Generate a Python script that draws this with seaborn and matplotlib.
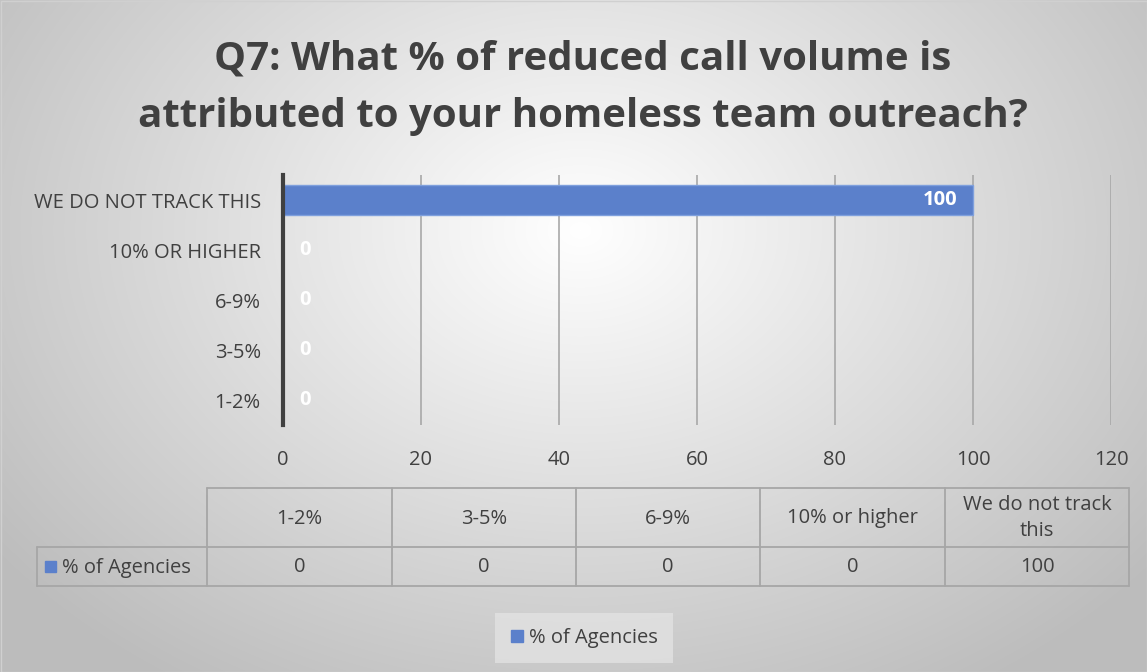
import numpy as np
import pandas as pd
import matplotlib
matplotlib.use("Agg")
import matplotlib.pyplot as plt
import seaborn as sns
from matplotlib.patches import Rectangle

# Survey answers and share of agencies giving each answer
categories = ["1-2%", "3-5%", "6-9%", "10% or higher", "We do not track this"]
values = [0, 0, 0, 0, 100]
series_name = "% of Agencies"
x_ticks = [0, 20, 40, 60, 80, 100, 120]
title = "Q7: What % of reduced call volume is\nattributed to your homeless team outreach?"

sns.set_theme(style="white")
plt.rcParams["font.family"] = ["Open Sans", "DejaVu Sans"]

W, H = 1147, 672
text_col = "#404040"
bar_col = "#5b80cb"
fs = 14.5

fig = plt.figure(figsize=(W / 100, H / 100), dpi=100)

# Radial-gradient background across the whole figure
bg = fig.add_axes([0, 0, 1, 1], zorder=-10)
yy, xx = np.mgrid[0:H, 0:W]
r = np.sqrt(((xx - 580) / 700.0) ** 2 + ((yy - 230) / 520.0) ** 2)
shade = np.clip(1.0 - 0.25 * r, 0.74, 1.0)
bg.imshow(np.dstack([shade] * 3), extent=(0, W, H, 0), aspect="auto")
bg.add_patch(Rectangle((0.5, 0.5), W - 1, H - 1, fill=False, ec="#d0d0d0", lw=1))
bg.set_xlim(0, W)
bg.set_ylim(H, 0)
bg.axis("off")

# Bar chart area
left, right, top, bottom = 283, 1111, 175, 425
ax = fig.add_axes([left / W, 1 - bottom / H, (right - left) / W, (bottom - top) / H])
ax.patch.set_alpha(0)

df = pd.DataFrame({"category": [c.upper() for c in categories], "value": values})
order = [c.upper() for c in categories][::-1]
sns.barplot(data=df, y="category", x="value", order=order, orient="h",
            color=bar_col, width=0.6, saturation=1, ax=ax,
            edgecolor="#7fa0dd", linewidth=1, zorder=3)

ax.set_xlim(0, 120)
ax.set_ylim(len(order) - 0.5, -0.5)
ax.set_xticks(x_ticks)
ax.set_xticklabels([str(t) for t in x_ticks], fontsize=fs, color=text_col)
ax.tick_params(axis="x", length=0, pad=18)
ax.tick_params(axis="y", length=0, pad=16)
for lbl in ax.get_yticklabels():
    lbl.set_fontsize(fs)
    lbl.set_color(text_col)
ax.set_xlabel("")
ax.set_ylabel("")
for t in x_ticks[1:]:
    ax.axvline(t, color="#a8a8a8", lw=1.2, zorder=1)
for s in ["top", "right", "bottom"]:
    ax.spines[s].set_visible(False)
ax.spines["left"].set_color("#404040")
ax.spines["left"].set_linewidth(3)
ax.spines["left"].set_zorder(5)

# Value labels
for i, cat in enumerate(order):
    v = df.loc[df["category"] == cat, "value"].iloc[0]
    if v > 0:
        ax.text(v - 2.3, i, str(v), ha="right", va="center", color="white",
                fontsize=fs, fontweight="bold", zorder=6)
    else:
        ax.text(v + 2.4, i, str(v), ha="left", va="center", color="white",
                fontsize=fs, fontweight="bold", zorder=6)

# Title
fig.text(583 / W, 1 - 88 / H, title, ha="center", va="center", fontsize=29,
         fontweight="bold", color=text_col, linespacing=1.6)

# Data table below the chart (pixel layout on the background axes)
col_edges = [207, 392, 576, 760, 945, 1129]
row_top, row_mid, row_bot = 488, 547, 586
label_left = 37
grid_c = "#a6a6a6"
bg.plot([col_edges[0], col_edges[-1]], [row_top, row_top], color=grid_c, lw=1.3)
bg.plot([label_left, col_edges[-1]], [row_mid, row_mid], color=grid_c, lw=1.3)
bg.plot([label_left, col_edges[-1]], [row_bot, row_bot], color=grid_c, lw=1.3)
bg.plot([label_left, label_left], [row_mid, row_bot], color=grid_c, lw=1.3)
for xe in col_edges:
    bg.plot([xe, xe], [row_top, row_bot], color=grid_c, lw=1.3)
header_labels = ["1-2%", "3-5%", "6-9%", "10% or higher", "We do not track\nthis"]
for j, (hdr, v) in enumerate(zip(header_labels, values)):
    cx = (col_edges[j] + col_edges[j + 1]) / 2
    bg.text(cx, (row_top + row_mid) / 2 + 1, hdr, ha="center", va="center",
            fontsize=fs, color=text_col, linespacing=1.4)
    bg.text(cx, (row_mid + row_bot) / 2 + 1, str(v), ha="center", va="center",
            fontsize=fs, color=text_col)
bg.add_patch(Rectangle((45, 561), 11, 11, color=bar_col))
bg.text(62, (row_mid + row_bot) / 2 + 1, series_name, ha="left", va="center",
        fontsize=fs, color=text_col)

# Legend
handle = Rectangle((0, 0), 1, 1, color=bar_col)
leg = fig.legend([handle], [series_name], loc="center", bbox_to_anchor=(584 / W, 1 - 638 / H),
                 frameon=True, fontsize=fs, handlelength=0.6, handleheight=0.6,
                 handletextpad=0.3, borderpad=0.75, borderaxespad=0, fancybox=False)
leg.get_frame().set_facecolor("#e2e2e2")
leg.get_frame().set_edgecolor("none")
for t in leg.get_texts():
    t.set_color(text_col)

fig.savefig("out.png", dpi=100)
